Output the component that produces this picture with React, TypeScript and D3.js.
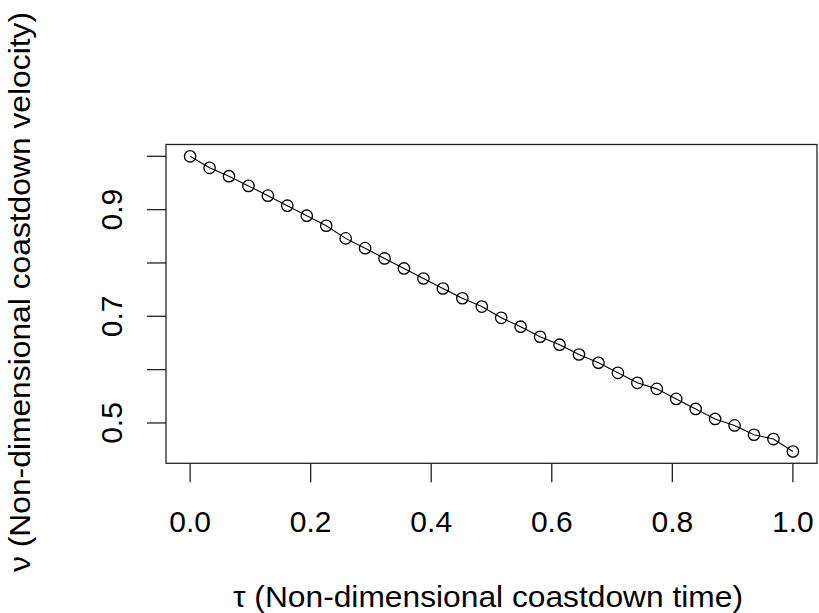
import React from "react";
import * as d3 from "d3";

const tau: number[] = Array.from({ length: 32 }, (_, i) => i / 31);
const velocity: number[] = [
  1.0, 0.9784, 0.9627, 0.9445, 0.9262, 0.9074, 0.8886, 0.8698,
  0.8461, 0.8278, 0.8085, 0.7897, 0.7709, 0.7521, 0.7338, 0.7182,
  0.6971, 0.6805, 0.6617, 0.6467, 0.6284, 0.6128, 0.594, 0.5752,
  0.5639, 0.5451, 0.5263, 0.5075, 0.4954, 0.4779, 0.4698, 0.4465,
];
const xTicks: number[] = [0, 0.2, 0.4, 0.6, 0.8, 1.0];
const xTickLabels: string[] = ["0.0", "0.2", "0.4", "0.6", "0.8", "1.0"];
const yTicks: number[] = [0.5, 0.6, 0.7, 0.8, 0.9, 1.0];
const yTickLabels: string[] = ["0.5", "", "0.7", "", "0.9", ""];
const xTitle = "\u03C4 (Non-dimensional coastdown time)";
const yTitle = "\u03BD (Non-dimensional coastdown velocity)";

const W = 819;
const H = 613;
const L = 166, R = 817, T = 144.5, B = 463.3;
const FONT = "'Liberation Sans', Arial, sans-serif";

export default function App() {
  const xmin = d3.min(tau)!, xmax = d3.max(tau)!;
  const ymin = d3.min(velocity)!, ymax = d3.max(velocity)!;
  const xe = (xmax - xmin) * 0.04, ye = (ymax - ymin) * 0.04;
  const x = d3.scaleLinear().domain([xmin - xe, xmax + xe]).range([L, R]);
  const y = d3.scaleLinear().domain([ymin - ye, ymax + ye]).range([B, T]);
  const pts = tau.map((t, i) => [t, velocity[i]] as [number, number]);
  const line = d3.line<[number, number]>().x(d => x(d[0])).y(d => y(d[1]));
  const tick = 19;
  return (
    <svg width={W} height={H} style={{ position: "absolute", left: 0, top: 0, background: "#fff" }} fontFamily={FONT}>
      <rect x={0} y={0} width={W} height={H} fill="#fff" />
      <path d={line(pts) || ""} fill="none" stroke="#000" strokeWidth={1.1} />
      {pts.map((d, i) => (
        <circle key={i} cx={x(d[0])} cy={y(d[1])} r={5.7} fill="none" stroke="#000" strokeWidth={1.3} />
      ))}
      <rect x={L} y={T} width={R - L} height={B - T} fill="none" stroke="#222" strokeWidth={1.3} />
      {xTicks.map((t, i) => (
        <g key={i}>
          <line x1={x(t)} x2={x(t)} y1={B} y2={B + tick} stroke="#222" strokeWidth={1.3} />
          <text x={x(t)} y={532} textAnchor="middle" fontSize={30} fill="#000">{xTickLabels[i]}</text>
        </g>
      ))}
      {yTicks.map((t, i) => (
        <g key={i}>
          <line x1={L - tick} x2={L} y1={y(t)} y2={y(t)} stroke="#222" strokeWidth={1.3} />
          {yTickLabels[i] && (
            <text transform={`translate(122,${y(t)}) rotate(-90)`} textAnchor="middle" fontSize={30} fill="#000">{yTickLabels[i]}</text>
          )}
        </g>
      ))}
      <text x={488} y={607} textAnchor="middle" fontSize={30} textLength={510} lengthAdjust="spacingAndGlyphs" fill="#000">{xTitle}</text>
      <text transform={`translate(30,${292}) rotate(-90)`} textAnchor="middle" fontSize={30} textLength={560} lengthAdjust="spacingAndGlyphs" fill="#000">{yTitle}</text>
    </svg>
  );
}
